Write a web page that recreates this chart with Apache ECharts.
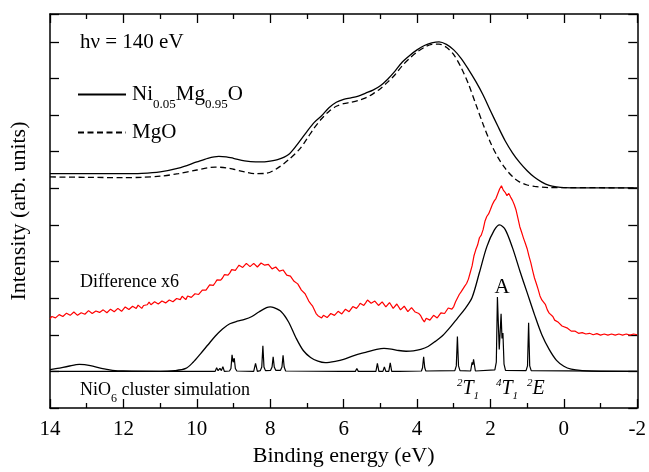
<!DOCTYPE html>
<html><head><meta charset="utf-8">
<script src="https://cdn.jsdelivr.net/npm/echarts@6/dist/echarts.min.js"></script>
<style>html,body{margin:0;padding:0;background:#fff}#c{width:649px;height:472px}</style>
</head><body><div id="c"></div>
<script>
// x: binding energy (eV), y: intensity in arbitrary units (axis tick = 1 unit)
const xTicks = [14, 12, 10, 8, 6, 4, 2, 0, -2];
const niMgO = [[14,6.40],[13,6.40],[12,6.40],[11.5,6.41],[11,6.45],[10.5,6.55],[10,6.72],[9.7,6.82],[9.4,6.87],[9.2,6.86],[9,6.82],[8.7,6.75],[8.4,6.72],[8.1,6.73],[7.8,6.78],[7.5,6.92],[7.2,7.28],[7.0,7.55],[6.8,7.8],[6.6,7.98],[6.4,8.2],[6.2,8.35],[6.0,8.43],[5.8,8.47],[5.6,8.52],[5.4,8.6],[5.2,8.68],[5.0,8.8],[4.8,8.98],[4.6,9.2],[4.4,9.45],[4.2,9.63],[4.0,9.78],[3.8,9.9],[3.6,9.97],[3.4,10.0],[3.2,9.93],[3.0,9.78],[2.8,9.55],[2.6,9.25],[2.4,8.92],[2.2,8.55],[2.0,8.12],[1.8,7.7],[1.6,7.3],[1.4,6.97],[1.2,6.7],[1.0,6.48],[0.8,6.3],[0.6,6.17],[0.4,6.08],[0.2,6.04],[0,6.02],[-1,6.01],[-2,6.01]];
const mgO = [[14,6.31],[13,6.30],[12,6.29],[11.5,6.30],[11,6.33],[10.5,6.40],[10,6.50],[9.7,6.56],[9.5,6.58],[9.2,6.56],[9,6.52],[8.7,6.45],[8.4,6.40],[8.1,6.41],[7.8,6.55],[7.5,6.78],[7.2,7.07],[7.0,7.35],[6.8,7.65],[6.6,7.9],[6.4,8.1],[6.2,8.24],[6.0,8.31],[5.8,8.35],[5.6,8.4],[5.4,8.47],[5.2,8.58],[5.0,8.72],[4.8,8.9],[4.6,9.1],[4.4,9.35],[4.2,9.55],[4.0,9.72],[3.8,9.85],[3.6,9.93],[3.4,9.94],[3.2,9.85],[3.0,9.65],[2.8,9.3],[2.6,8.85],[2.4,8.3],[2.2,7.75],[2.0,7.25],[1.8,6.85],[1.6,6.55],[1.4,6.32],[1.2,6.17],[1.0,6.09],[0.8,6.05],[0.6,6.03],[0.4,6.02],[0,6.02],[-2,6.01]];
const diffX6 = [[14.0,2.43],[13.95,2.50],[13.9,2.54],[13.85,2.46],[13.8,2.47],[13.75,2.55],[13.7,2.58],[13.65,2.50],[13.6,2.51],[13.55,2.59],[13.5,2.60],[13.45,2.53],[13.4,2.52],[13.35,2.62],[13.3,2.61],[13.25,2.53],[13.2,2.54],[13.15,2.60],[13.1,2.63],[13.05,2.56],[13.0,2.55],[12.95,2.66],[12.9,2.64],[12.85,2.58],[12.8,2.57],[12.75,2.65],[12.7,2.69],[12.65,2.61],[12.6,2.60],[12.55,2.68],[12.5,2.67],[12.45,2.60],[12.4,2.61],[12.35,2.70],[12.3,2.71],[12.25,2.63],[12.2,2.62],[12.15,2.72],[12.1,2.73],[12.05,2.64],[12.0,2.65],[11.95,2.76],[11.9,2.77],[11.85,2.69],[11.8,2.68],[11.75,2.78],[11.7,2.74],[11.65,2.72],[11.6,2.81],[11.55,2.79],[11.5,2.72],[11.45,2.80],[11.4,2.83],[11.35,2.82],[11.3,2.89],[11.25,2.82],[11.2,2.80],[11.15,2.90],[11.1,2.91],[11.05,2.84],[11.0,2.83],[10.95,2.92],[10.9,2.93],[10.85,2.87],[10.8,2.85],[10.75,2.95],[10.7,2.97],[10.65,2.90],[10.6,2.89],[10.55,2.99],[10.5,3.00],[10.45,2.96],[10.4,3.05],[10.35,3.01],[10.3,2.96],[10.25,3.06],[10.2,3.09],[10.15,3.02],[10.1,3.01],[10.05,3.12],[10.0,3.15],[9.95,3.10],[9.9,3.14],[9.85,3.22],[9.8,3.26],[9.75,3.22],[9.7,3.27],[9.65,3.36],[9.6,3.40],[9.55,3.35],[9.5,3.42],[9.45,3.50],[9.4,3.54],[9.35,3.49],[9.3,3.55],[9.25,3.64],[9.2,3.66],[9.15,3.63],[9.1,3.69],[9.05,3.78],[9.0,3.80],[8.95,3.76],[8.9,3.83],[8.85,3.90],[8.8,3.91],[8.75,3.84],[8.7,3.88],[8.65,3.95],[8.6,3.93],[8.55,3.86],[8.5,3.87],[8.45,3.95],[8.4,3.94],[8.35,3.85],[8.3,3.86],[8.25,3.96],[8.2,3.97],[8.15,3.90],[8.1,3.87],[8.05,3.92],[8.0,3.89],[7.95,3.80],[7.9,3.81],[7.85,3.85],[7.8,3.82],[7.75,3.74],[7.7,3.72],[7.65,3.77],[7.6,3.75],[7.55,3.63],[7.5,3.59],[7.45,3.60],[7.4,3.57],[7.35,3.46],[7.3,3.42],[7.25,3.39],[7.2,3.35],[7.15,3.22],[7.1,3.17],[7.05,3.12],[7.0,3.08],[6.95,2.92],[6.9,2.85],[6.85,2.79],[6.8,2.74],[6.75,2.58],[6.7,2.52],[6.65,2.50],[6.6,2.46],[6.55,2.53],[6.5,2.55],[6.45,2.47],[6.4,2.48],[6.35,2.58],[6.3,2.61],[6.25,2.53],[6.2,2.54],[6.15,2.64],[6.1,2.66],[6.05,2.57],[6.0,2.58],[5.95,2.70],[5.9,2.73],[5.85,2.63],[5.8,2.64],[5.75,2.77],[5.7,2.79],[5.65,2.72],[5.6,2.78],[5.55,2.86],[5.5,2.88],[5.45,2.80],[5.4,2.87],[5.35,2.95],[5.3,2.96],[5.25,2.86],[5.2,2.83],[5.15,2.92],[5.1,2.91],[5.05,2.80],[5.0,2.79],[4.95,2.90],[4.9,2.89],[4.85,2.76],[4.8,2.75],[4.75,2.88],[4.7,2.87],[4.65,2.72],[4.6,2.71],[4.55,2.84],[4.5,2.83],[4.45,2.68],[4.4,2.67],[4.35,2.78],[4.3,2.77],[4.25,2.63],[4.2,2.61],[4.15,2.74],[4.1,2.73],[4.05,2.62],[4.0,2.60],[3.95,2.58],[3.9,2.52],[3.85,2.42],[3.8,2.35],[3.75,2.45],[3.7,2.49],[3.65,2.40],[3.6,2.39],[3.55,2.53],[3.5,2.55],[3.45,2.46],[3.4,2.45],[3.35,2.60],[3.3,2.63],[3.25,2.58],[3.2,2.61],[3.15,2.73],[3.1,2.75],[3.05,2.70],[3.0,2.77],[2.95,2.90],[2.9,2.93],[2.85,3.10],[2.8,3.17],[2.75,3.22],[2.7,3.33],[2.65,3.40],[2.6,3.52],[2.55,3.70],[2.5,3.88],[2.45,4.15],[2.4,4.32],[2.35,4.45],[2.3,4.65],[2.25,4.72],[2.2,4.87],[2.15,5.10],[2.1,5.23],[2.05,5.30],[2.0,5.42],[1.95,5.55],[1.9,5.65],[1.85,5.72],[1.8,5.85],[1.75,5.98],[1.7,6.07],[1.65,5.95],[1.6,5.89],[1.55,5.80],[1.5,5.86],[1.45,5.76],[1.4,5.67],[1.35,5.55],[1.3,5.40],[1.25,5.18],[1.2,4.95],[1.15,4.80],[1.1,4.64],[1.05,4.50],[1.0,4.35],[0.95,4.15],[0.9,3.97],[0.85,3.75],[0.8,3.55],[0.75,3.40],[0.7,3.24],[0.65,3.06],[0.6,2.95],[0.55,2.90],[0.5,2.82],[0.45,2.68],[0.4,2.59],[0.35,2.56],[0.3,2.50],[0.25,2.40],[0.2,2.35],[0.15,2.34],[0.1,2.32],[0.05,2.24],[0.0,2.20],[-0.1,2.18],[-0.2,2.10],[-0.3,2.10],[-0.4,2.04],[-0.5,2.06],[-0.6,2.02],[-0.7,2.04],[-0.8,2.00],[-0.9,2.03],[-1.0,1.99],[-1.1,2.02],[-1.2,1.99],[-1.3,2.02],[-1.4,1.99],[-1.5,2.02],[-1.6,1.99],[-1.7,2.02],[-1.8,1.99],[-1.9,2.02],[-2.0,2.00]];
const simBroad = [[14,1.05],[13.8,1.08],[13.5,1.14],[13.2,1.19],[12.9,1.16],[12.6,1.08],[12.3,1.03],[12,1.01],[11,1.0],[10.6,1.02],[10.3,1.08],[10.1,1.25],[9.9,1.48],[9.7,1.72],[9.5,1.96],[9.3,2.16],[9.1,2.30],[8.9,2.37],[8.7,2.42],[8.5,2.5],[8.3,2.63],[8.1,2.74],[8.0,2.76],[7.9,2.74],[7.7,2.63],[7.5,2.35],[7.3,1.92],[7.1,1.57],[6.9,1.38],[6.7,1.28],[6.5,1.24],[6.2,1.28],[6.0,1.33],[5.7,1.44],[5.4,1.52],[5.1,1.6],[4.9,1.63],[4.7,1.61],[4.5,1.57],[4.3,1.55],[4.1,1.56],[3.9,1.6],[3.7,1.68],[3.5,1.82],[3.3,1.98],[3.1,2.2],[2.9,2.45],[2.7,2.7],[2.5,3.02],[2.3,3.7],[2.1,4.4],[1.9,4.85],[1.75,5.0],[1.6,4.88],[1.4,4.38],[1.2,3.75],[1.0,3.15],[0.8,2.55],[0.6,2.0],[0.4,1.6],[0.2,1.3],[0,1.14],[-0.2,1.06],[-0.5,1.02],[-1,1.0],[-2,1.0]];
const simSticks = [[14,1.0],[13.1,1.0],[13.05,1.03],[13.0,1.0],[12.9,1.0],[12.85,1.02],[12.8,1.0],[9.5,1.0],[9.46,1.10],[9.42,1.02],[9.37,1.08],[9.33,1.02],[9.29,1.13],[9.25,1.0],[9.11,1.01],[9.07,1.08],[9.04,1.45],[9.01,1.25],[8.98,1.36],[8.95,1.08],[8.91,1.01],[8.45,1.0],[8.40,1.22],[8.35,1.0],[8.27,1.02],[8.23,1.12],[8.20,1.70],[8.17,1.12],[8.13,1.02],[7.99,1.03],[7.95,1.12],[7.92,1.40],[7.89,1.12],[7.85,1.03],[7.72,1.03],[7.68,1.12],[7.65,1.44],[7.62,1.12],[7.58,1.01],[6.07,1.0],[6.03,1.05],[5.99,1.0],[5.88,1.0],[5.84,1.03],[5.80,1.0],[5.68,1.0],[5.64,1.08],[5.60,1.0],[5.12,1.0],[5.08,1.22],[5.04,1.0],[4.93,1.0],[4.89,1.12],[4.85,1.0],[4.77,1.0],[4.73,1.23],[4.69,1.0],[4.57,1.0],[4.53,1.03],[4.49,1.0],[3.88,1.01],[3.85,1.10],[3.82,1.40],[3.79,1.10],[3.76,1.01],[2.97,1.02],[2.93,1.15],[2.90,1.95],[2.87,1.15],[2.83,1.02],[2.54,1.01],[2.50,1.25],[2.48,1.18],[2.46,1.33],[2.41,1.01],[1.88,1.04],[1.84,1.25],[1.81,3.03],[1.76,1.6],[1.71,2.57],[1.685,1.9],[1.66,2.05],[1.63,1.2],[1.59,1.03],[1.03,1.02],[0.99,1.15],[0.96,2.33],[0.93,1.15],[0.89,1.02],[-2,1.0]];

const SERIF = '"Liberation Serif", "DejaVu Serif", serif';
const axisLine = {show: true, onZero: false, lineStyle: {color: '#000', width: 1.5}};
const tick = {show: true, inside: true, length: 9, lineStyle: {color: '#000', width: 1.3}};
const minor = {show: true, splitNumber: 2, length: 5, lineStyle: {color: '#000', width: 1.3}};
const chart = echarts.init(document.getElementById('c'));
chart.setOption({
  animation: false,
  backgroundColor: '#fff',
  grid: {left: 50, right: 11, top: 14, bottom: 61},
  legend: {
    data: ['Ni0.05Mg0.95O', 'MgO'],
    orient: 'vertical', left: 77, top: 84, padding: 0, itemWidth: 48, itemHeight: 14, itemGap: 11,
    itemStyle: {opacity: 0},
    textStyle: {fontFamily: SERIF, fontSize: 21, color: '#000', padding: [0, 0, 0, 1],
      rich: {a: {fontFamily: SERIF, fontSize: 21, color: '#000'},
             s: {fontFamily: SERIF, fontSize: 13, color: '#000', padding: [20, 0, 0, 0]}}},
    formatter: function (n) {
      return n === 'MgO' ? '{a|MgO}' : '{a|Ni}{s|0.05}{a|Mg}{s|0.95}{a|O}';
    }
  },
  xAxis: [{
    type: 'value', inverse: true, min: -2, max: 14, interval: 2,
    axisLine: axisLine, axisTick: tick, minorTick: minor,
    splitLine: {show: false},
    axisLabel: {fontFamily: SERIF, fontSize: 21, color: '#000', margin: 11,
      formatter: v => xTicks.includes(v) ? String(v) : ''},
    name: 'Binding energy (eV)', nameLocation: 'middle', nameGap: 37,
    nameTextStyle: {fontFamily: SERIF, fontSize: 22, color: '#000'}
  }, {
    type: 'value', inverse: true, min: -2, max: 14, interval: 2, position: 'top',
    axisLine: axisLine, axisTick: tick, minorTick: minor,
    splitLine: {show: false}, axisLabel: {show: false}
  }],
  yAxis: [{
    type: 'value', min: 0, max: 10.76, interval: 1,
    axisLine: axisLine, axisTick: tick,
    splitLine: {show: false}, axisLabel: {show: false},
    name: 'Intensity (arb. units)', nameLocation: 'middle', nameGap: 20,
    nameTextStyle: {fontFamily: SERIF, fontSize: 22, color: '#000'}
  }, {
    type: 'value', min: 0, max: 10.76, interval: 1, position: 'right',
    axisLine: axisLine, axisTick: tick,
    splitLine: {show: false}, axisLabel: {show: false}
  }],
  series: [
    {name: 'Ni0.05Mg0.95O', type: 'line', data: niMgO, smooth: 0.3, symbol: 'none',
     lineStyle: {color: '#000', width: 1.3}, itemStyle: {color: '#000'}},
    {name: 'MgO', type: 'line', data: mgO, smooth: 0.3, symbol: 'none',
     lineStyle: {color: '#000', width: 1.3, type: [6, 3.5]}, itemStyle: {color: '#000'}},
    {name: 'diff', type: 'line', data: diffX6, symbol: 'none',
     lineStyle: {color: '#ff0000', width: 1.2}},
    {name: 'sim', type: 'line', data: simBroad, smooth: 0.3, symbol: 'none',
     lineStyle: {color: '#000', width: 1.3}},
    {name: 'sticks', type: 'line', data: simSticks, symbol: 'none',
     lineStyle: {color: '#000', width: 1.2}}
  ],
  graphic: [
    {type: 'text', x: 80, y: 42, style: {text: 'hν = 140 eV', font: '21px ' + SERIF, fill: '#000', verticalAlign: 'middle'}},
    {type: 'text', x: 80, y: 282, style: {text: 'Difference x6', font: '18px ' + SERIF, fill: '#000', verticalAlign: 'middle'}},
    {type: 'text', x: 80, y: 390, style: {text: '{a|NiO}{s|6}{a| cluster simulation}', verticalAlign: 'middle', fill: '#000',
      rich: {a: {fontFamily: SERIF, fontSize: 18, fill: '#000'}, s: {fontFamily: SERIF, fontSize: 12, fill: '#000', padding: [17, 0, 0, 0]}}}},
    {type: 'text', x: 502, y: 287, style: {text: 'A', font: '21px ' + SERIF, fill: '#000', align: 'center', verticalAlign: 'middle'}},
    {type: 'text', x: 457, y: 389, style: {text: '{p|2}{t|T}{b|1}', verticalAlign: 'middle', fill: '#000',
      rich: {t: {fontFamily: SERIF, fontSize: 20, fontStyle: 'italic'}, p: {fontFamily: SERIF, fontSize: 11, fontStyle: 'italic', padding: [0, 0, 12, 0]}, b: {fontFamily: SERIF, fontSize: 11, fontStyle: 'italic', padding: [14, 0, 0, 0]}}}},
    {type: 'text', x: 496, y: 389, style: {text: '{p|4}{t|T}{b|1}', verticalAlign: 'middle', fill: '#000',
      rich: {t: {fontFamily: SERIF, fontSize: 20, fontStyle: 'italic'}, p: {fontFamily: SERIF, fontSize: 11, fontStyle: 'italic', padding: [0, 0, 12, 0]}, b: {fontFamily: SERIF, fontSize: 11, fontStyle: 'italic', padding: [14, 0, 0, 0]}}}},
    {type: 'text', x: 527, y: 389, style: {text: '{p|2}{t|E}', verticalAlign: 'middle', fill: '#000',
      rich: {t: {fontFamily: SERIF, fontSize: 20, fontStyle: 'italic'}, p: {fontFamily: SERIF, fontSize: 11, fontStyle: 'italic', padding: [0, 0, 12, 0]}}}}
  ]
});
</script></body></html>
